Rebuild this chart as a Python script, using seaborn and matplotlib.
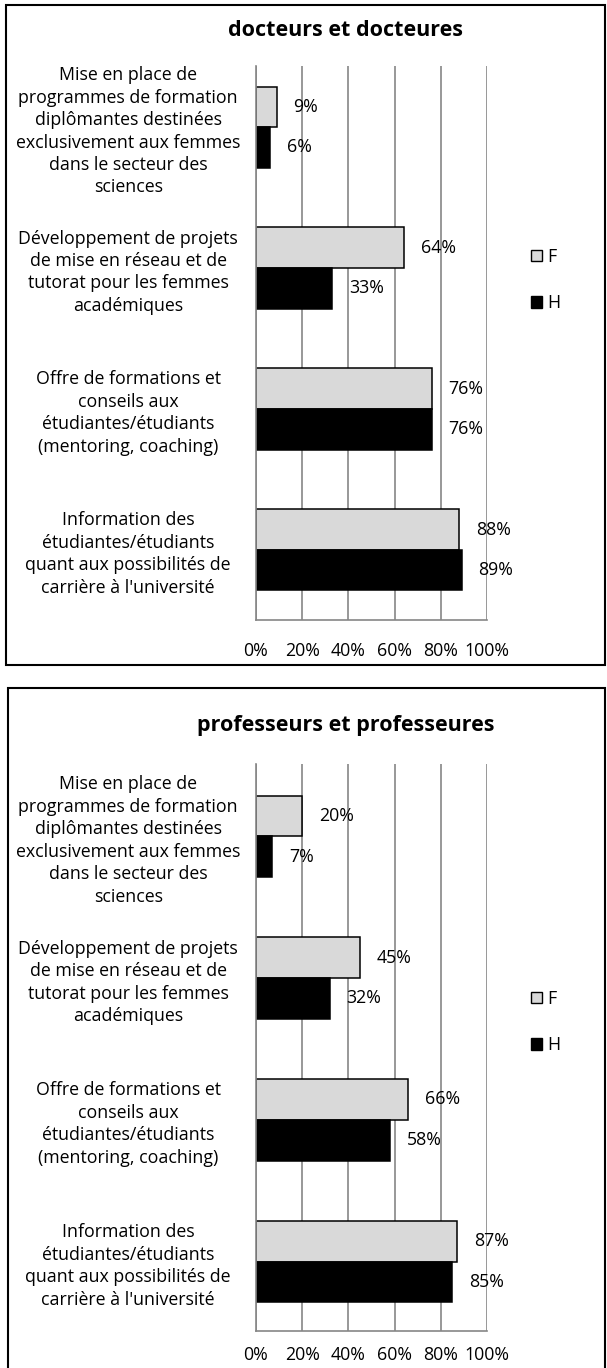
import matplotlib
matplotlib.use("Agg")
import matplotlib.pyplot as plt
from matplotlib.patches import Rectangle, Patch
import seaborn as sns
import pandas as pd

categories = [
    "Mise en place de\nprogrammes de formation\ndiplômantes destinées\nexclusivement aux femmes\ndans le secteur des\nsciences",
    "Développement de projets\nde mise en réseau et de\ntutorat pour les femmes\nacadémiques",
    "Offre de formations et\nconseils aux\nétudiantes/étudiants\n(mentoring, coaching)",
    "Information des\nétudiantes/étudiants\nquant aux possibilités de\ncarrière à l'université",
]
series = ["F", "H"]
doct_F = [9, 64, 76, 88]
doct_H = [6, 33, 76, 89]
prof_F = [20, 45, 66, 87]
prof_H = [7, 32, 58, 85]
titles = ["docteurs et docteures", "professeurs et professeures"]
xticks = [0, 20, 40, 60, 80, 100]
xticklabels = ["0%", "20%", "40%", "60%", "80%", "100%"]

sns.set_theme(style="white")
FONT = ["Open Sans", "DejaVu Sans"]
plt.rcParams["font.family"] = FONT
plt.rcParams["text.color"] = "black"
plt.rcParams["xtick.labelcolor"] = "black"
plt.rcParams["ytick.labelcolor"] = "black"

W, H = 607, 1368
fig = plt.figure(figsize=(W / 100, H / 100), dpi=100)
palette = {"F": "#d9d9d9", "H": "#000000"}
GRID = "#868686"
FS = 12.8


def px_axes(x0, y0, x1, y1):
    return fig.add_axes([x0 / W, 1 - y1 / H, (x1 - x0) / W, (y1 - y0) / H])


def panel(ax, fvals, hvals, ylim, title, title_y, box, leg_y, xpad):
    df = pd.DataFrame({
        "cat": categories * 2,
        "val": fvals + hvals,
        "sexe": ["F"] * 4 + ["H"] * 4,
    })
    sns.barplot(data=df, y="cat", x="val", hue="sexe", hue_order=series,
                palette=palette, orient="h", width=0.575, edgecolor="black",
                linewidth=1.1, ax=ax, legend=False, saturation=1)
    ax.set_xlim(0, 100)
    ax.set_ylim(*ylim)
    ax.set_xticks(xticks)
    ax.set_xticklabels(xticklabels, fontsize=FS, color="black")
    ax.tick_params(axis="x", length=0, pad=xpad)
    ax.tick_params(axis="y", length=0, pad=92)
    for lab in ax.get_yticklabels():
        lab.set_ha("center")
        lab.set_multialignment("center")
        lab.set_fontsize(FS)
        lab.set_linespacing(1.32)
        lab.set_color("black")
    ax.set_xlabel("")
    ax.set_ylabel("")
    ax.grid(axis="x", color=GRID, linewidth=1.2)
    ax.set_axisbelow(True)
    for s in ["top", "right"]:
        ax.spines[s].set_visible(False)
    for s in ["left", "bottom"]:
        ax.spines[s].set_color(GRID)
        ax.spines[s].set_linewidth(1.2)
    for cont in ax.containers:
        for rect in cont:
            w = rect.get_width()
            y = rect.get_y() + rect.get_height() / 2
            ax.annotate(f"{int(round(w))}%", xy=(w, y), xytext=(12, 0),
                        textcoords="offset points", ha="left", va="center",
                        fontsize=FS, color="black")
    # panel title and frame
    x0, y0, x1, y1 = box
    fig.patches.append(Rectangle((x0 / W, 1 - y1 / H), (x1 - x0) / W, (y1 - y0) / H,
                                 transform=fig.transFigure, fill=False,
                                 edgecolor="black", linewidth=1.5))
    fig.text(346 / W, 1 - title_y / H, title, ha="center", va="center",
             fontsize=15.5, fontweight="bold", color="black")
    handles = [Patch(facecolor=palette[s], edgecolor="black", linewidth=1.0, label=s)
               for s in series]
    fig.legend(handles=handles, loc="center left",
               bbox_to_anchor=(531 / W, 1 - leg_y / H), frameon=False,
               fontsize=FS, handlelength=0.6, handleheight=0.6, borderpad=0,
               borderaxespad=0, handletextpad=0.3, labelspacing=1.6,
               labelcolor="black")


ax1 = px_axes(256, 66, 487, 620)
panel(ax1, doct_F, doct_H, (3.497, -0.433), titles[0], 30, (6, 5, 605, 665), 280, 16)
ax2 = px_axes(256, 764, 487, 1331)
panel(ax2, prof_F, prof_H, (3.49, -0.51), titles[1], 725, (8, 688, 605, 1380), 1022, 11)

fig.savefig("out.png", dpi=100)
